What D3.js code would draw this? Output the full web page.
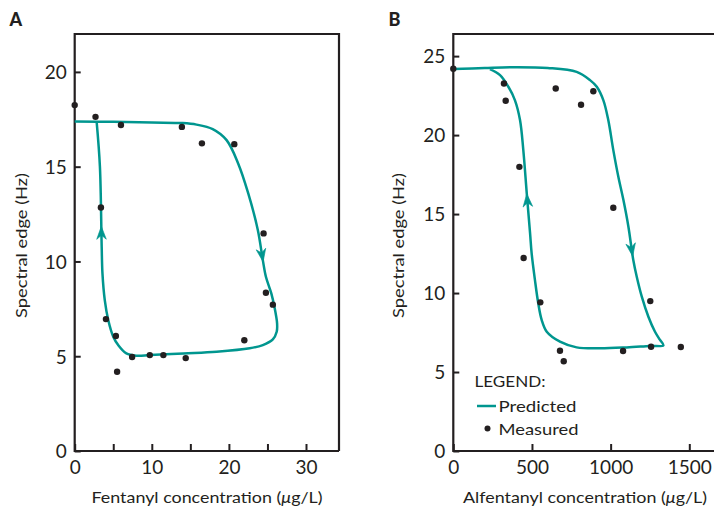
<!DOCTYPE html>
<html><head><meta charset="utf-8">
<script src="https://cdn.jsdelivr.net/npm/d3@7"></script>
<style>
html,body{margin:0;padding:0;background:#fff;}
svg{display:block;font-family:Lato, "Open Sans", sans-serif;}
</style></head>
<body>
<svg id="chart" width="714" height="507"></svg>
<script>
// ---------- DATA ----------
// Panel A: fentanyl
const fentMeasuredX = [0, 2.7, 6.0, 13.9, 16.5, 20.7, 3.4, 24.5, 24.8, 25.7, 4.05, 5.34, 5.5, 7.45, 9.74, 11.5, 14.4, 22.0];
const fentMeasuredY = [18.25, 17.63, 17.2, 17.1, 16.23, 16.19, 12.85, 11.48, 8.35, 7.72, 6.96, 6.07, 4.18, 4.96, 5.06, 5.06, 4.9, 5.84];
const fentPredX = [0, 5, 10, 14, 15.8, 17.9, 19.7, 21.2, 22.5, 23.75, 24.4, 24.8, 25.5, 25.9, 26.25, 26.2, 25.7, 24.4, 22.7, 18.4, 14.1, 9.74, 8.0, 6.7, 5.64, 5.0, 4.35, 3.9, 3.6, 3.5, 3.27, 2.85];
const fentPredY = [17.38, 17.37, 17.33, 17.3, 17.22, 16.98, 16.4, 15.17, 13.6, 11.66, 10.07, 9.19, 8.32, 7.61, 6.73, 6.29, 5.89, 5.59, 5.42, 5.24, 5.15, 5.06, 5.03, 5.15, 5.59, 6.03, 6.91, 7.96, 9.37, 10.78, 15.0, 17.35];
const fentArrowX = [24.55, 3.5];
const fentArrowY = [10.0, 11.85];
const fentXTicks = [0, 5, 10, 15, 20, 25, 30];
const fentYTicks = [0, 5, 10, 15, 20];

// Panel B: alfentanyl
const alfMeasuredX = [0, 322, 333, 651, 812, 890, 420, 1017, 447, 553, 1252, 678, 702, 1079, 1257, 1446];
const alfMeasuredY = [24.2, 23.27, 22.17, 22.95, 21.92, 22.78, 17.99, 15.4, 12.22, 9.41, 9.49, 6.35, 5.68, 6.33, 6.6, 6.58];
const alfPredX = [0, 200, 400, 600, 784, 869, 912, 954, 985, 1017, 1049, 1081, 1113, 1144, 1166, 1198, 1240, 1282, 1314, 1335, 1250, 1102, 933, 784, 678, 594, 562, 540, 519, 498, 488, 467, 445, 424, 392, 350, 297, 233];
const alfPredY = [24.18, 24.25, 24.3, 24.25, 24.0, 23.48, 23.06, 22.2, 20.95, 19.05, 17.36, 15.9, 14.2, 12.09, 11.03, 9.77, 8.5, 7.55, 7.03, 6.69, 6.65, 6.56, 6.5, 6.56, 6.92, 7.55, 8.29, 9.35, 10.82, 12.51, 13.78, 16.3, 19.05, 20.95, 22.2, 23.06, 23.8, 24.18];
const alfArrowX = [1130, 467];
const alfArrowY = [12.3, 16.3];
const alfXTicks = [0, 500, 1000, 1500];
const alfYTicks = [0, 5, 10, 15, 20, 25];

const legendLabels = ["LEGEND:", "Predicted", "Measured"];

// ---------- STYLE ----------
const TEAL = "#00968f";
const INK = "#231f20";
const svg = d3.select("#chart");

function zip(xs, ys){ return xs.map((x,i)=>[x, ys[i]]); }

function drawPanel(cfg){
  const g = svg.append("g");
  const x = d3.scaleLinear().domain(cfg.xDomain).range(cfg.xRange);
  const y = d3.scaleLinear().domain(cfg.yDomain).range([451, 34]);

  // axes (ticks inward)
  const xa = d3.axisBottom(x).tickValues(cfg.xTicks).tickSize(-7).tickPadding(10)
    .tickFormat(d => cfg.xLabelEvery ? (d % cfg.xLabelEvery === 0 ? d : "") : d);
  const ya = d3.axisLeft(y).tickValues(cfg.yTicks).tickSize(-6).tickPadding(8);
  const gx = g.append("g").attr("transform", "translate(0,451)").call(xa);
  const gy = g.append("g").attr("transform", `translate(${cfg.xRange[0]},0)`).call(ya);
  [gx, gy].forEach(a => {
    a.select(".domain").remove();
    a.selectAll("line").attr("stroke", INK).attr("stroke-width", 2);
    a.selectAll("text").attr("fill", INK).style("font-size", "19px").style("font-family", "Lato, sans-serif");
  });
  gy.selectAll("text").attr("dy", "0.36em");
  gx.selectAll("text").attr("dy", "0.7em");

  // frame
  g.append("path")
    .attr("d", `M${cfg.frameRight},451 H${cfg.xRange[0]} V34 H${cfg.frameRight} ${cfg.closeRight ? "V451" : ""}`)
    .attr("fill", "none").attr("stroke", INK).attr("stroke-width", 2.2);

  // predicted curve
  const line = d3.line().x(d => x(d[0])).y(d => y(d[1])).curve(d3.curveCatmullRom.alpha(0.5));
  const path = g.append("path").datum(zip(cfg.predX, cfg.predY))
    .attr("d", line).attr("fill", "none").attr("stroke", TEAL).attr("stroke-width", 2.5)
    .attr("stroke-linejoin", "round");

  // arrowheads along the curve
  const node = path.node();
  const L = node.getTotalLength();
  cfg.arrowX.forEach((ax, i) => {
    const tx = x(ax), ty = y(cfg.arrowY[i]);
    let best = 0, bd = Infinity;
    for (let l = 0; l <= L; l += 0.5) {
      const p = node.getPointAtLength(l);
      const dd = (p.x - tx) ** 2 + (p.y - ty) ** 2;
      if (dd < bd) { bd = dd; best = l; }
    }
    const p0 = node.getPointAtLength(Math.max(0, best - 3));
    const p1 = node.getPointAtLength(Math.min(L, best + 3));
    const pt = node.getPointAtLength(best);
    const ang = Math.atan2(p1.y - p0.y, p1.x - p0.x) * 180 / Math.PI;
    g.append("path").attr("d", "M0,0 L-13,-4.8 L-9,0 L-13,4.8 Z")
      .attr("fill", TEAL).attr("stroke", TEAL).attr("stroke-width", 0.6).attr("stroke-linejoin", "round")
      .attr("transform", `translate(${pt.x},${pt.y}) rotate(${ang})`);
  });

  // measured points
  g.selectAll("circle.m").data(zip(cfg.measX, cfg.measY)).join("circle")
    .attr("class", "m").attr("cx", d => x(d[0])).attr("cy", d => y(d[1])).attr("r", 3.2).attr("fill", INK);

  // labels
  g.append("text").attr("x", cfg.xTitlePos[0]).attr("y", 503).attr("fill", INK)
    .style("font-size", "16px").attr("textLength", cfg.xTitleLen).attr("lengthAdjust", "spacingAndGlyphs")
    .selectAll("tspan").data(cfg.xTitle).join("tspan")
    .attr("font-style", d => d.italic ? "italic" : null).text(d => d.t);
  g.append("text").attr("transform", `translate(${cfg.yTitleX},318) rotate(-90)`).attr("fill", INK)
    .style("font-size", "16px").attr("textLength", 145).attr("lengthAdjust", "spacingAndGlyphs")
    .text("Spectral edge (Hz)");
  g.append("text").attr("x", cfg.panelPos[0]).attr("y", 25.5).attr("fill", INK)
    .style("font-size", "18px").style("font-weight", 900).text(cfg.panel);
  return {x, y, g};
}

drawPanel({
  xDomain: [0, 30], xRange: [74.7, 306], yDomain: [0, 22],
  xTicks: fentXTicks, xLabelEvery: 10, yTicks: fentYTicks,
  frameRight: 339, closeRight: true,
  predX: fentPredX, predY: fentPredY, arrowX: fentArrowX, arrowY: fentArrowY,
  measX: fentMeasuredX, measY: fentMeasuredY,
  xTitle: [{t: "Fentanyl concentration ("}, {t: "μ", italic: true}, {t: "g/L)"}],
  xTitlePos: [91.5, 503], xTitleLen: 231, yTitleX: 27, panel: "A", panelPos: [9.5]
});

drawPanel({
  xDomain: [0, 1500], xRange: [453.3, 689.3], yDomain: [0, 26.4],
  xTicks: alfXTicks, xLabelEvery: 0, yTicks: alfYTicks,
  frameRight: 760, closeRight: false,
  predX: alfPredX, predY: alfPredY, arrowX: alfArrowX, arrowY: alfArrowY,
  measX: alfMeasuredX, measY: alfMeasuredY,
  xTitle: [{t: "Alfentanyl concentration ("}, {t: "μ", italic: true}, {t: "g/L)"}],
  xTitlePos: [463, 503], xTitleLen: 244, yTitleX: 404, panel: "B", panelPos: [388.5]
});

// legend (panel B)
const lg = svg.append("g").attr("fill", INK).style("font-size", "16px");
lg.append("text").attr("x", 474.5).attr("y", 386.5).attr("textLength", 71).attr("lengthAdjust", "spacingAndGlyphs").text(legendLabels[0]);
lg.append("line").attr("x1", 477).attr("x2", 496).attr("y1", 406).attr("y2", 406).attr("stroke", TEAL).attr("stroke-width", 2.5);
lg.append("text").attr("x", 498.5).attr("y", 412).attr("textLength", 78).attr("lengthAdjust", "spacingAndGlyphs").text(legendLabels[1]);
lg.append("circle").attr("cx", 487.5).attr("cy", 428.5).attr("r", 3).attr("fill", INK);
lg.append("text").attr("x", 498.5).attr("y", 434.5).attr("textLength", 80).attr("lengthAdjust", "spacingAndGlyphs").text(legendLabels[2]);
</script>
</body></html>
